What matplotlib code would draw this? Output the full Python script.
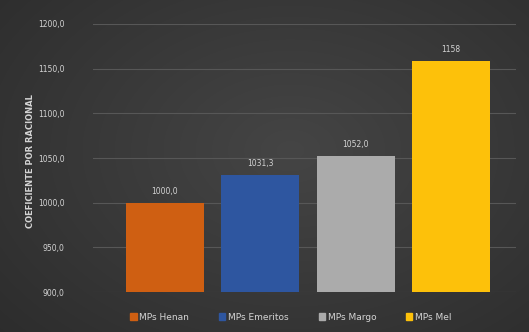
import numpy as np
import matplotlib
matplotlib.use("Agg")
import matplotlib.pyplot as plt

# chart data
categories = ["MPs Henan", "MPs Emeritos", "MPs Margo", "MPs Mel"]
values = [1000.0, 1031.3, 1052.0, 1158.0]
value_labels = ["1000,0", "1031,3", "1052,0", "1158"]
colors = ["#cf5f12", "#2e56a0", "#ababab", "#fdc10a"]
yticks = [900, 950, 1000, 1050, 1100, 1150, 1200]
ytick_labels = ["900,0", "950,0", "1000,0", "1050,0", "1100,0", "1150,0", "1200,0"]

txt = "#d4d4d4"

fig = plt.figure(figsize=(5.29, 3.32), dpi=100)

# dark radial background in its own axes behind everything
bg_ax = fig.add_axes([0, 0, 1, 1], zorder=-10)
yy, xx = np.mgrid[0:332, 0:529]
r = np.sqrt(((xx - 290) / 330.0) ** 2 + ((yy - 150) / 230.0) ** 2)
bg = np.clip(0.27 - 0.08 * r, 0.17, 0.27)
bg_ax.imshow(np.dstack([bg, bg, bg]), aspect="auto", extent=[0, 1, 0, 1])
bg_ax.axis("off")

ax = fig.add_axes([0.175, 0.12, 0.80, 0.808])
ax.patch.set_alpha(0)

x = np.arange(len(categories))
bars = ax.bar(x, values, width=0.82, color=colors, zorder=3)
for xi, v, lab in zip(x, values, value_labels):
    ax.text(xi, v + 8, lab, ha="center", va="bottom", fontsize=5.5, color=txt)

ax.set_ylim(900, 1200)
ax.set_xlim(-0.76, 3.68)
ax.set_yticks(yticks)
ax.set_yticklabels(ytick_labels, fontsize=5.5, color=txt)
ax.set_xticks([])
ax.tick_params(axis="y", length=0, pad=20)
ax.grid(axis="y", color="#575757", linewidth=0.8, zorder=0)
for s in ax.spines.values():
    s.set_visible(False)

ax.set_ylabel("COEFICIENTE POR RACIONAL", fontsize=6, color=txt,
              fontweight="bold", labelpad=2)
ax.yaxis.set_label_coords(-0.135, 0.49)

handles = [plt.Rectangle((0, 0), 1, 1, color=c) for c in colors]
fig.legend(handles, categories, loc="center", bbox_to_anchor=(0.55, 0.045),
           ncol=4, frameon=False, fontsize=6.5, labelcolor=txt,
           handlelength=0.7, handleheight=0.7, handletextpad=0.3,
           columnspacing=3.3)

fig.savefig("out.png", dpi=100)
